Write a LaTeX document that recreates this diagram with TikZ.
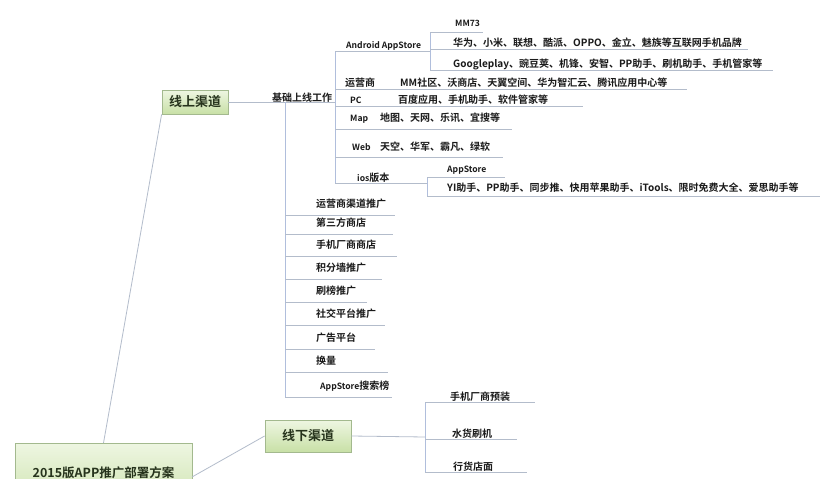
\documentclass[tikz,border=0pt]{standalone}
\usepackage{fontspec}
\setmainfont{Noto Sans CJK SC}[BoldFont={Noto Sans CJK SC Bold}]
\definecolor{linec}{HTML}{B3BCCB}
\definecolor{barc}{HTML}{B0BEDC}
\definecolor{txtc}{HTML}{1A1A1A}
\definecolor{boxd}{HTML}{A3B98E}
\definecolor{boxl}{HTML}{EEF6E2}
\definecolor{boxg}{HTML}{C8E0A6}
\definecolor{boxt}{HTML}{26331C}
\begin{document}
\begin{tikzpicture}[x=1pt,y=-1pt,
  conn/.style={draw=linec, line width=0.8pt},
  bar/.style={draw=barc, line width=0.9pt},
  lbl/.style={inner sep=0pt, anchor=base west, font=\fontsize{10}{12}\selectfont\bfseries, text=txtc},
  lat/.style={font=\fontsize{8.6}{10}\selectfont\bfseries},
  topicbox/.style={draw=boxd, line width=0.8pt, top color=boxl, bottom color=boxg, inner sep=0pt, text=boxt, font=\fontsize{13}{15}\selectfont\bfseries}]
\useasboundingbox (0,0) rectangle (828,479);
\clip (0,0) rectangle (828,479);
\fill[white] (0,0) rectangle (828,479);

% main boxes
\path[topicbox] (15,443) rectangle (192,515);
\node[inner sep=0pt, text=boxt, font=\fontsize{12.5}{14}\selectfont\bfseries, anchor=base] (root) at (103.5,477) {2015版APP推广部署方案};
\coordinate (rtop) at (103.5,443);
\coordinate (rright) at (192,477);
\node[topicbox, minimum width=66pt, minimum height=24pt] (online) at (195,102) {线上渠道};
\node[topicbox, minimum width=86pt, minimum height=32pt] (offline) at (308,436) {线下渠道};

\draw[conn] (rtop) -- (online.south west);
\draw[conn] (rright) -- (offline.west);

% online: basic work
\coordinate (b1) at (285,102);
\coordinate (b2) at (335,102);
\draw[conn] (online.east) -- (b2);
\node[lbl] (basic) at (272,101) {基础上线工作};

% second level bar
\coordinate (b2top) at (335,51);
\coordinate (b2bot) at (335,183);
\draw[bar] (b2top) -- (b2bot);

% Android AppStore
\coordinate (aend) at (430,51);
\draw[conn] (b2top) -- (aend);
\node[lbl, lat] (android) at (346,48) {Android AppStore};
\draw[bar] (430,32) -- (430,70);
\draw[conn] (430,32) -- (483,32);
\node[lbl, lat] (mm) at (455,26) {MM73};
\draw[conn] (430,49) -- (748,49);
\node[lbl] (brands) at (453,46) {华为、小米、联想、酷派、OPPO、金立、魅族等互联网手机品牌};
\draw[conn] (430,70) -- (773,70);
\node[lbl] (gplay) at (453,67) {Googleplay、豌豆荚、机锋、安智、PP助手、刷机助手、手机管家等};

% operators
\draw[conn] (335,89) -- (687,89);
\node[lbl] (op) at (345,86) {运营商};
\node[lbl] (opx) at (400,86) {MM社区、沃商店、天翼空间、华为智汇云、腾讯应用中心等};
% PC
\draw[conn] (335,106) -- (583,106);
\node[lbl, lat] (pc) at (350,103) {PC};
\node[lbl] (pcx) at (398,103) {百度应用、手机助手、软件管家等};
% Map
\draw[conn] (335,129) -- (512,129);
\node[lbl, lat] (map) at (350,121) {Map};
\node[lbl] (mapx) at (380,121) {地图、天网、乐讯、宜搜等};
% Web
\draw[conn] (335,157) -- (503,157);
\node[lbl, lat] (web) at (352,150) {Web};
\node[lbl] (webx) at (380,150) {天空、华军、霸凡、绿软};
% ios
\draw[conn] (b2bot) -- (427,183);
\node[lbl] (ios) at (357,181) {\fontsize{8.6}{10}\selectfont ios\fontsize{10}{12}\selectfont 版本};
\draw[bar] (427,177) -- (427,196);
\draw[conn] (427,177) -- (505,177);
\node[lbl, lat] (appst) at (447,172) {AppStore};
\draw[conn] (427,196) -- (820,196);
\node[lbl] (iosx) at (447,191) {YI助手、PP助手、同步推、快用苹果助手、iTools、限时免费大全、爱思助手等};

% list bar
\draw[bar] (b1) -- (285,397);
\foreach \t/\y/\e [count=\i] in {运营商渠道推广/215/395, 第三方商店/234/393, 手机厂商商店/256/397, 积分墙推广/279/382, 刷榜推广/302/367, 社交平台推广/325/385, 广告平台/349/375, 换量/372/388}{
  \draw[conn] (285,\y) -- (\e,\y);
  \node[lbl] (li\i) at (316,\y-8) {\t};
}
\draw[conn] (285,397) -- (392,397);
\node[lbl] (li9) at (320,389) {\fontsize{8.6}{10}\selectfont AppStore\fontsize{10}{12}\selectfont 搜索榜};

% offline
\coordinate (ob) at (425,437);
\draw[conn] (offline.east) -- (ob);
\draw[bar] (425,402) -- (425,472);
\draw[conn] (425,402) -- (535,402);
\node[lbl] (off1) at (450,400) {手机厂商预装};
\draw[conn] (425,439) -- (517,439);
\node[lbl] (off2) at (452,437) {水货刷机};
\draw[conn] (425,472) -- (527,472);
\node[lbl] (off3) at (453,470) {行货店面};
\end{tikzpicture}
\end{document}
